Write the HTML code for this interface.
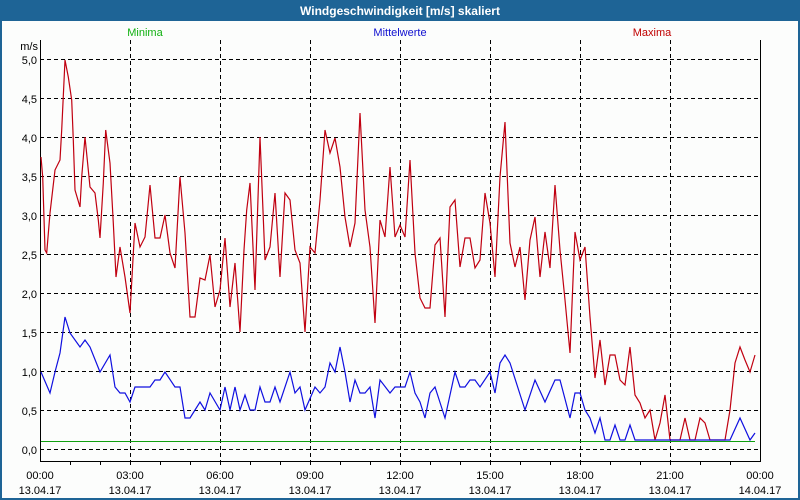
<!DOCTYPE html>
<html><head><meta charset="utf-8"><style>
html,body{margin:0;padding:0;background:#fff;}
svg{display:block;font-family:"Liberation Sans",sans-serif;}
</style></head><body>
<svg width="800" height="500" viewBox="0 0 800 500" xmlns="http://www.w3.org/2000/svg">
<rect x="0" y="0" width="800" height="500" fill="#1e6496"/>
<rect x="2" y="21" width="796" height="477" fill="#fcfdfc"/>
<text x="400" y="15" fill="#fff" font-size="12" font-weight="bold" text-anchor="middle">Windgeschwindigkeit [m/s] skaliert</text>
<text x="145" y="36" fill="#10b010" font-size="11" text-anchor="middle">Minima</text>
<text x="400" y="36" fill="#1010d0" font-size="11" text-anchor="middle">Mittelwerte</text>
<text x="652" y="36" fill="#c00000" font-size="11" text-anchor="middle">Maxima</text>
<g stroke="#000" stroke-width="1" stroke-dasharray="4,3" shape-rendering="crispEdges">
<line x1="40" x2="760" y1="59.5" y2="59.5"/><line x1="40" x2="760" y1="98.5" y2="98.5"/>
<line x1="40" x2="760" y1="137.5" y2="137.5"/><line x1="40" x2="760" y1="176.5" y2="176.5"/>
<line x1="40" x2="760" y1="215.5" y2="215.5"/><line x1="40" x2="760" y1="254.5" y2="254.5"/>
<line x1="40" x2="760" y1="293.5" y2="293.5"/><line x1="40" x2="760" y1="332.5" y2="332.5"/>
<line x1="40" x2="760" y1="371.5" y2="371.5"/><line x1="40" x2="760" y1="410.5" y2="410.5"/>
<line x1="40" x2="760" y1="449.5" y2="449.5"/>
<line x1="130.5" x2="130.5" y1="40" y2="461"/><line x1="220.5" x2="220.5" y1="40" y2="461"/>
<line x1="310.5" x2="310.5" y1="40" y2="461"/><line x1="400.5" x2="400.5" y1="40" y2="461"/>
<line x1="490.5" x2="490.5" y1="40" y2="461"/><line x1="580.5" x2="580.5" y1="40" y2="461"/>
<line x1="670.5" x2="670.5" y1="40" y2="461"/>
</g>
<g stroke="#000" stroke-width="1" shape-rendering="crispEdges" fill="none">
<path d="M40.5 40 V461.5 H760.5 V40"/>
<path d="M70.5 461v4M100.5 461v4M130.5 461v4M160.5 461v4M190.5 461v4M220.5 461v4M250.5 461v4M280.5 461v4M310.5 461v4M340.5 461v4M370.5 461v4M400.5 461v4M430.5 461v4M460.5 461v4M490.5 461v4M520.5 461v4M550.5 461v4M580.5 461v4M610.5 461v4M640.5 461v4M670.5 461v4M700.5 461v4M730.5 461v4"/>
</g>
<line x1="41" x2="755" y1="441.5" y2="441.5" stroke="#10a010" stroke-width="1"/>
<polyline fill="none" stroke="#c00010" stroke-width="1.2" points="41,157 42.7,177 45,250 46.7,253 50,213 55,170 60,160 61.7,130 65,60 68.3,77 71.7,100 73.3,140 75,190 80,207 81.7,177 85,137 90,187 95,193 98.3,220 100,238 103.3,183 105.7,130 110,163 113.3,223 116,277 120,247 125,277 130,313 135,223 140,247 145,237 150,185 155,238 160,238 165,215 170,253 175,268 180,177 185,233 190,317 195,317 200,278 205,280 210,255 215,307 220,290 225,238 230,307 235,263 240,332 244,250 246.7,210 250,183 255,290 260,137 265,260 270,247 275,193 280,277 285,193 290,200 295,250 300,263 305,332 310,247 315,253 320,200 325,130 330,153 335,138 340,167 345,217 350,247 355,223 360,113 365,210 370,247 375,323 380,220 385,237 390,167 395,237 400,225 405,237 410,160 415,253 420,298 425,308 430,308 435,245 440,238 445,317 450,207 455,200 460,267 465,238 470,238 475,268 480,260 485,193 490,223 495,277 500,177 505,122 510,243 515,267 520,247 525,300 530,240 535,217 540,277 545,232 550,268 555,185 560,250 565,300 570,353 575,232 580,260 585,247 590,317 595,378 600,340 605,385 610,355 615,355 620,380 625,385 630,347 635,395 640,403 645,418 650,410 655,440 660,423 665,395 670,440 680,440 685,418 690,440 695,440 700,418 705,423 710,440 725,440 730,410 735,363 740,347 745,360 750,372 755,355"/>
<polyline fill="none" stroke="#1010e0" stroke-width="1.2" points="41,372 50,393 55,372 60,353 65,317 70,333 80,347 85,340 90,347 100,372 110,355 115,387 120,393 125,393 130,402 135,387 150,387 155,380 160,380 165,372 175,387 180,387 185,418 190,418 200,402 205,410 210,393 220,410 225,387 230,410 235,387 240,410 245,395 250,410 255,410 260,387 265,402 270,402 275,387 280,402 290,372 295,393 300,387 305,410 315,387 320,393 325,387 330,363 335,372 340,347 345,372 350,402 355,380 360,393 365,393 370,387 375,418 380,380 390,393 395,387 405,387 410,372 415,393 420,402 425,418 430,393 435,387 445,418 455,372 460,387 465,387 470,380 475,380 480,387 490,372 495,393 500,363 505,355 510,363 525,410 535,380 545,402 555,380 560,380 570,418 575,393 580,393 585,410 590,418 595,433 600,418 605,440 610,440 615,425 620,440 625,440 630,425 635,440 730,440 740,418 750,440 755,433"/>
<g font-size="11" fill="#000" text-anchor="end">
<text x="38" y="50">m/s</text>
<text x="37" y="64">5,0</text><text x="37" y="103">4,5</text><text x="37" y="142">4,0</text>
<text x="37" y="181">3,5</text><text x="37" y="220">3,0</text><text x="37" y="259">2,5</text>
<text x="37" y="298">2,0</text><text x="37" y="337">1,5</text><text x="37" y="376">1,0</text>
<text x="37" y="415">0,5</text><text x="37" y="454">0,0</text>
</g>
<g font-size="11" fill="#000" text-anchor="middle">
<text x="40" y="479">00:00</text><text x="40" y="494">13.04.17</text>
<text x="130" y="479">03:00</text><text x="130" y="494">13.04.17</text>
<text x="220" y="479">06:00</text><text x="220" y="494">13.04.17</text>
<text x="310" y="479">09:00</text><text x="310" y="494">13.04.17</text>
<text x="400" y="479">12:00</text><text x="400" y="494">13.04.17</text>
<text x="490" y="479">15:00</text><text x="490" y="494">13.04.17</text>
<text x="580" y="479">18:00</text><text x="580" y="494">13.04.17</text>
<text x="670" y="479">21:00</text><text x="670" y="494">13.04.17</text>
<text x="760" y="479">00:00</text><text x="760" y="494">14.04.17</text>
</g>
</svg>
</body></html>
